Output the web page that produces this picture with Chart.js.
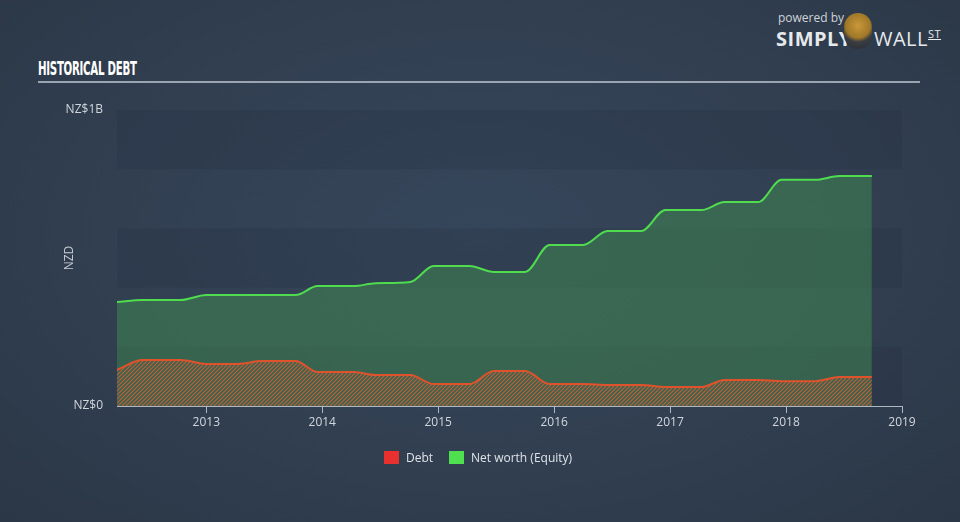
<!DOCTYPE html>
<html>
<head>
<meta charset="utf-8">
<script src="https://cdn.jsdelivr.net/npm/chart.js@4"></script>
<style>
  html, body { margin: 0; padding: 0; }
  body {
    width: 960px; height: 522px; overflow: hidden; position: relative;
    background: radial-gradient(ellipse at 50% 45%, #36465a 0%, #313f51 55%, #2b3746 100%);
    font-family: 'Open Sans', sans-serif;
  }
  #title {
    position: absolute; left: 38px; top: 57px; white-space: nowrap;
    color: #fff; font-family: 'DejaVu Sans Condensed', 'DejaVu Sans', sans-serif;
    font-weight: bold; font-size: 19px; letter-spacing: -0.5px;
    transform: scaleX(0.6); transform-origin: 0 0;
  }
  #rule { position: absolute; left: 38px; top: 81px; width: 882px; height: 2px; background: #9aa5b1; }
  #logo { position: absolute; left: 776px; top: 9px; color: #e6e9ec; }
  #logo .pw { position: absolute; left: 2px; top: 0; font-size: 12px; color: #cfd4d9; white-space: nowrap; }
  #logo .si { position: absolute; left: 0; top: 16px; font-size: 20px; font-weight: bold; letter-spacing: 0.5px; white-space: nowrap; }
  #logo .wa { position: absolute; left: 98px; top: 16px; font-size: 20px; letter-spacing: 0.5px; white-space: nowrap; }
  #logo .bull { position: absolute; left: 68px; top: 4px; width: 28px; height: 36px; border-radius: 14px;
    background: radial-gradient(circle at 50% 35%, #c9983a 0%, #a07828 45%, #3a3d42 60%, #2a2c30 100%); }
  #legend { position: absolute; top: 449px; left: 384px; font-size: 12px; color: #dfe3e7; }
  #legend span.item { position: absolute; top: 0; white-space: nowrap; }
  #legend i { display: inline-block; width: 15px; height: 13px; vertical-align: -2px; margin-right: 7px; }
  #chartBox { position: absolute; left: 0; top: 0; width: 960px; height: 522px; }
</style>
</head>
<body>
<div id="title">HISTORICAL DEBT</div>
<div id="rule"></div>
<div id="logo">
  <span class="pw">powered by</span>
  <span class="si">SIMPLY</span>
  <span class="bull"></span>
  <span class="wa">WALL<sup style="font-size:11px;text-decoration:underline;">ST</sup></span>
</div>
<div id="chartBox"><canvas id="debtChart" width="960" height="522"></canvas></div>
<div id="legend">
  <span class="item" style="left:0"><i style="background:#e8302f"></i>Debt</span>
  <span class="item" style="left:65px"><i style="background:#4fe04f"></i>Net worth (Equity)</span>
</div>

<script>
// dates as decimal years, values in NZ$ millions
var dates  = [2012.23, 2012.45, 2012.78, 2013.0, 2013.27, 2013.48, 2013.77, 2013.96, 2014.27, 2014.46, 2014.76, 2014.96, 2015.27, 2015.48, 2015.75, 2015.96, 2016.25, 2016.46, 2016.75, 2016.96, 2017.27, 2017.47, 2017.76, 2017.96, 2018.25, 2018.46, 2018.74];
var equity = [351, 358, 358, 375, 375, 375, 375, 405, 405, 415, 419, 473, 473, 453, 453, 544, 544, 591, 591, 662, 662, 689, 689, 764, 764, 777, 777];
var debt   = [122, 155, 155, 142, 142, 152, 152, 115, 115, 105, 105, 74, 74, 118, 118, 74, 74, 71, 71, 64, 64, 88, 88, 84, 84, 98, 98];
var yearTicks = [2013, 2014, 2015, 2016, 2017, 2018, 2019];

function toPoints(vals) {
    var pts = [];
    for (var i = 0; i < dates.length; i++) {
        pts.push({x: dates[i], y: vals[i]});
    }
    return pts;
}

// diagonal hatch for the debt area
function makeHatch() {
    var c = document.createElement('canvas');
    c.width = 4; c.height = 4;
    var g = c.getContext('2d');
    g.fillStyle = 'rgba(70,95,78,0.3)';
    g.fillRect(0, 0, 4, 4);
    g.strokeStyle = 'rgba(222,98,52,0.8)';
    g.lineWidth = 1.2;
    g.beginPath();
    g.moveTo(0, 4); g.lineTo(4, 0);
    g.moveTo(-1, 1); g.lineTo(1, -1);
    g.moveTo(3, 5); g.lineTo(5, 3);
    g.stroke();
    return g.createPattern(c, 'repeat');
}

// alternating horizontal bands behind the plot
var bandsPlugin = {
    id: 'bands',
    beforeDraw: function(chart) {
        var ctx = chart.ctx, area = chart.chartArea, y = chart.scales.y;
        ctx.save();
        for (var v = 0; v < 1000; v += 200) {
            if ((v / 200) % 2 !== 0) continue;
            var top = y.getPixelForValue(v + 200), bot = y.getPixelForValue(v);
            ctx.fillStyle = 'rgba(30,40,55,0.16)';
            ctx.fillRect(area.left, top, area.right - area.left, bot - top);
        }
        ctx.restore();
    }
};

var ctx = document.getElementById('debtChart').getContext('2d');
var debtChart = new Chart(ctx, {
    type: 'line',
    data: {
        datasets: [{
            label: 'Debt',
            data: toPoints(debt),
            borderColor: '#e0522c',
            borderWidth: 2,
            backgroundColor: makeHatch(),
            fill: 'origin',
            pointRadius: 0,
            cubicInterpolationMode: 'monotone'
        }, {
            label: 'Net worth (Equity)',
            data: toPoints(equity),
            borderColor: '#4fdc4f',
            borderWidth: 2,
            backgroundColor: 'rgba(64,135,80,0.55)',
            fill: 'origin',
            pointRadius: 0,
            cubicInterpolationMode: 'monotone'
        }]
    },
    options: {
        responsive: false,
        animation: false,
        layout: { padding: { top: 110, right: 58, bottom: 86, left: 62 } },
        plugins: { legend: { display: false }, tooltip: { enabled: false } },
        scales: {
            x: {
                type: 'linear',
                min: 2012.23,
                max: 2019,
                afterBuildTicks: function(scale) {
                    scale.ticks = yearTicks.map(function(v) { return {value: v}; });
                },
                afterFit: function(scale) { scale.height = 30; },
                ticks: {
                    color: '#d2d7dc',
                    font: { family: 'Open Sans', size: 12 },
                    padding: 2,
                    callback: function(v) { return String(v); }
                },
                grid: { drawOnChartArea: false, color: '#aeb8c4', tickLength: 7, lineWidth: 1 },
                border: { color: '#aeb8c4', width: 1 }
            },
            y: {
                min: 0,
                max: 1000,
                afterFit: function(scale) { scale.width = 55; },
                ticks: {
                    stepSize: 200,
                    color: '#d2d7dc',
                    font: { family: 'Open Sans', size: 12 },
                    padding: 6,
                    callback: function(v) {
                        if (v === 0) return 'NZ$0';
                        if (v === 1000) return 'NZ$1B';
                        return '';
                    }
                },
                title: {
                    display: true,
                    text: 'NZD',
                    color: '#c8cdd3',
                    font: { family: 'Open Sans', size: 12 },
                    padding: { top: 0, bottom: 0 }
                },
                grid: { display: false },
                border: { display: false }
            }
        }
    },
    plugins: [bandsPlugin]
});
</script>
</body>
</html>
